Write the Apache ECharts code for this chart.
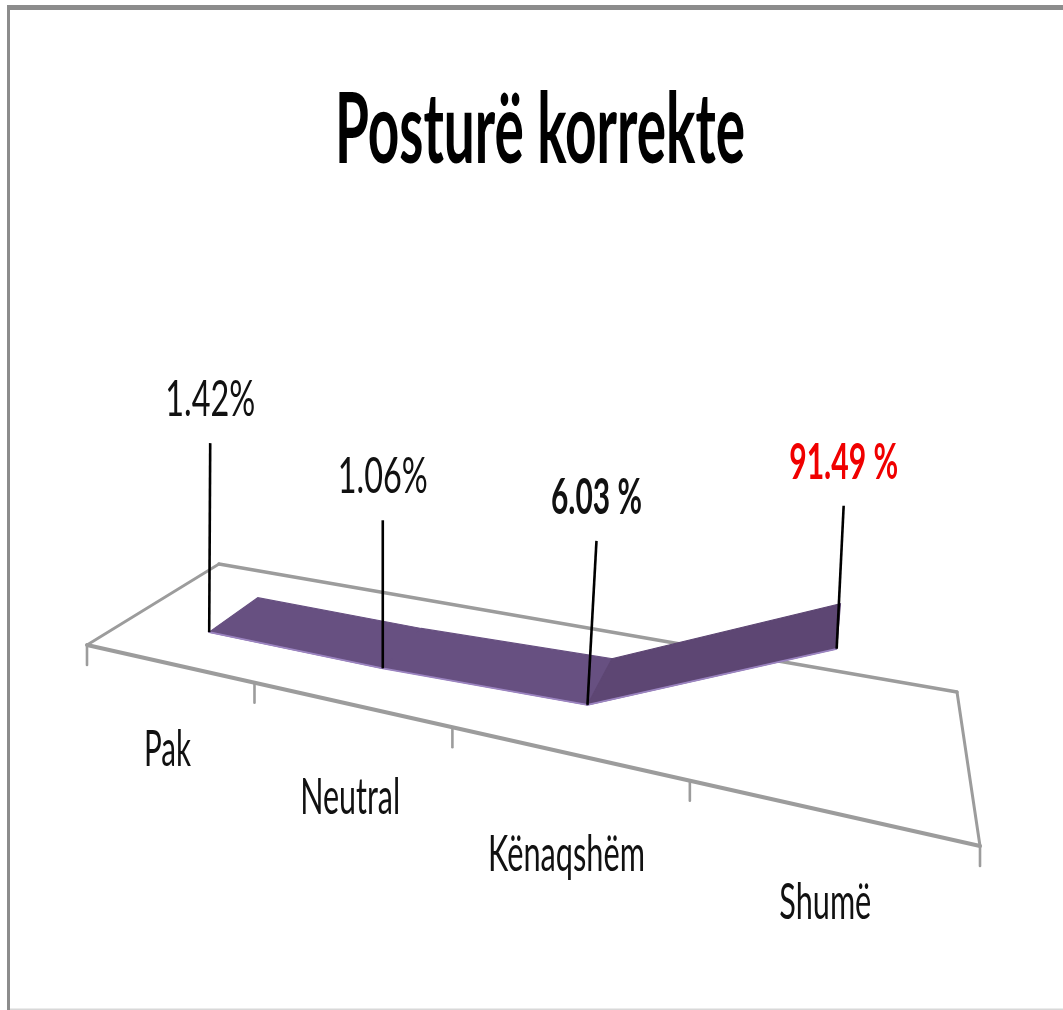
<!DOCTYPE html>
<html><head><meta charset="utf-8">
<style>html,body{margin:0;padding:0;background:#fff}#c{width:1063px;height:1010px}</style>
<script src="https://cdn.jsdelivr.net/npm/echarts@6/dist/echarts.min.js"></script>
</head><body><div id="c"></div>
<script>
// ---- data ----
const titleText = 'Posturë korrekte';
const categories = ['Pak', 'Neutral', 'Kënaqshëm', 'Shumë'];
const values = [1.42, 1.06, 6.03, 91.49];
const valueLabels = ['1.42%', '1.06%', '6.03 %', '91.49 %'];

// ---- style and layout ----
const FONT = 'Lato';
const valueColors = ['#111', '#111', '#111', '#f00000'];
const valueWeights = ['normal', 'normal', 'bold', 'bold'];
const valueWidths = [90, 90, 91, 109];
const catWidths = [47, 100, 157, 92];
const catGaps = [87, 94, 102, 91];
const catShift = [0, 1, 1, -2];
const leaderRise = [189, 148, 164, 143];
const leaderLean = [1, 0, 9, 7];
// floor plane of the 3D chart as seen on screen: front-left, front-right, back-right, back-left
const Q = [[87, 645], [980, 846], [957, 692], [219, 564]];
const DEPTH_FRONT = 0.3, DEPTH_BACK = 0.7;

const P = (function () {
  const [[x0, y0], [x1, y1], [x2, y2], [x3, y3]] = Q;
  const dx1 = x1 - x2, dx2 = x3 - x2, sx = x0 - x1 + x2 - x3;
  const dy1 = y1 - y2, dy2 = y3 - y2, sy = y0 - y1 + y2 - y3;
  const det = dx1 * dy2 - dx2 * dy1;
  const g = (sx * dy2 - dx2 * sy) / det, h = (dx1 * sy - sx * dy1) / det;
  return { a: x1 - x0 + g * x1, b: x3 - x0 + h * x3, c: x0, d: y1 - y0 + g * y1, e: y3 - y0 + h * y3, f: y0, g, h };
})();
function project(u, v, rise, lean) {
  const w = P.g * u + P.h * v + 1, r = rise || 0, l = lean || 0;
  return [(P.a * u + P.b * v + P.c + l * r) / w, (P.d * u + P.e * v + P.f - r) / w];
}
const mctx = document.createElement('canvas').getContext('2d');
function fitScale(text, size, weight, target) {
  mctx.font = weight + ' ' + size + 'px ' + FONT;
  return target / mctx.measureText(text).width;
}
function textEl(text, x, y, size, weight, fill, target) {
  return { type: 'text', x, y, scaleX: fitScale(text, size, weight, target), silent: true,
    style: { text, x: 0, y: 0, align: 'center', verticalAlign: 'middle', fontFamily: FONT, fontSize: size, fontWeight: weight, fill } };
}
function bandU(params, api, i) {
  const cs = params.coordSys;
  return (api.coord([i, 0])[0] - cs.x) / cs.width;
}
function riseOf(api, i, v) { return api.coord([i, 0])[1] - api.coord([i, v])[1]; }
const leanOf = i => leaderLean[i] / leaderRise[i];

function renderFloor(params, api) {
  const cs = params.coordSys, n = categories.length;
  const line = (a, b, width) => ({ type: 'line', silent: true, shape: { x1: a[0], y1: a[1], x2: b[0], y2: b[1] }, style: { stroke: '#9c9c9c', lineWidth: width, lineCap: 'round' } });
  const c = [project(0, 0), project(1, 0), project(1, 1), project(0, 1)];
  const kids = [line(c[0], c[1], 4), line(c[1], c[2], 3), line(c[2], c[3], 3.4), line(c[3], c[0], 2.8)];
  const band = cs.width / n;
  for (let k = 0; k <= n; k++) {
    const p = project(k * band / cs.width, 0);
    kids.push(line(p, [p[0], p[1] + 20], 2.6));
  }
  return { type: 'group', children: kids };
}
function renderRibbon(params, api) {
  const i = api.value(0), n = categories.length;
  if (i >= n - 1) return null;
  const u0 = bandU(params, api, i), u1 = bandU(params, api, i + 1);
  const r0 = riseOf(api, i, values[i]), r1 = riseOf(api, i + 1, values[i + 1]);
  const f0 = project(u0, DEPTH_FRONT, r0, leanOf(i)), f1 = project(u1, DEPTH_FRONT, r1, leanOf(i + 1));
  const b0 = project(u0, DEPTH_BACK, r0, leanOf(i)), b1 = project(u1, DEPTH_BACK, r1, leanOf(i + 1));
  const fill = i === n - 2 ? '#5d4673' : '#675081';
  return { type: 'group', children: [
    { type: 'polygon', silent: true, shape: { points: [f0, f1, b1, b0] }, style: { fill, stroke: fill, lineWidth: 1.2 } },
    { type: 'line', silent: true, shape: { x1: f0[0], y1: f0[1], x2: f1[0], y2: f1[1] }, style: { stroke: '#9b84c0', lineWidth: 1.8 } }
  ] };
}
function renderLabels(params, api) {
  const i = api.value(0), u = bandU(params, api, i);
  const base = project(u, DEPTH_FRONT, riseOf(api, i, api.value(1)), leanOf(i));
  const top = [base[0] + leaderLean[i], base[1] - leaderRise[i]];
  const foot = project(u, 0);
  return { type: 'group', children: [
    { type: 'line', silent: true, shape: { x1: base[0], y1: base[1], x2: top[0], y2: top[1] }, style: { stroke: '#000', lineWidth: 2.6 } },
    textEl(valueLabels[i], top[0], top[1] - 43, 50, valueWeights[i], valueColors[i], valueWidths[i]),
    textEl(categories[i], foot[0] + catShift[i], foot[1] + catGaps[i], 50, 'normal', '#111', catWidths[i])
  ] };
}
const seriesData = categories.map((c, i) => [i, values[i]]);
const chart = echarts.init(document.getElementById('c'), null, { renderer: 'canvas' });
chart.setOption({
  animation: false,
  backgroundColor: '#fff',
  grid: { left: 0, right: 0, top: 300, height: 98 },
  xAxis: { type: 'category', data: categories, show: false },
  yAxis: { type: 'value', min: 0, max: 100, show: false },
  graphic: [
    { type: 'rect', silent: true, shape: { x: 7, y: 5, width: 1056, height: 5 }, style: { fill: '#8c8c8c' } },
    { type: 'rect', silent: true, shape: { x: 7, y: 5, width: 3, height: 1005 }, style: { fill: '#8c8c8c' } },
    { type: 'rect', silent: true, shape: { x: 10, y: 1008.5, width: 1053, height: 1.5 }, style: { fill: '#d8d8d8' } },
    textEl(titleText, 540, 132, 97, 'bold', '#000', 410)
  ],
  series: [
    { type: 'custom', name: 'floor', data: [[0, 0]], clip: false, z: 1, renderItem: renderFloor, encode: { x: 0, y: 1 } },
    { type: 'custom', name: 'ribbon', data: seriesData, clip: false, z: 2, renderItem: renderRibbon, encode: { x: 0, y: 1 } },
    { type: 'custom', name: 'labels', data: seriesData, clip: false, z: 3, renderItem: renderLabels, encode: { x: 0, y: 1 } }
  ]
});
</script></body></html>
